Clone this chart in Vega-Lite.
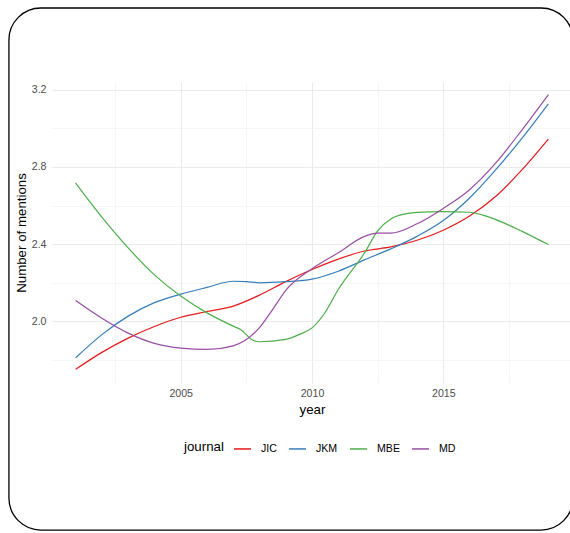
{
  "$schema": "https://vega.github.io/schema/vega-lite/v6.json",
  "autosize": {"type": "none"},
  "width": 520,
  "height": 301,
  "padding": {"left": 52, "top": 82, "right": 0, "bottom": 150},
  "background": "white",
  "config": {
    "font": "Liberation Sans",
    "view": {"stroke": null},
    "axis": {"domain": false, "ticks": false, "labelFontSize": 10.6, "labelColor": "#4d4d4d", "titleFontSize": 13.3, "titleFontWeight": "normal", "titleColor": "#000000", "gridColor": "#ebebeb"}
  },
  "resolve": {"axis": {"x": "independent", "y": "independent"}},
  "layer": [
    {
      "data": {"values": [{}]},
      "mark": {"type": "rect", "fillOpacity": 0, "stroke": "#000000", "strokeWidth": 1.3, "cornerRadius": 32},
      "encoding": {
        "x": {"datum": 1998.46, "type": "quantitative", "scale": {"domain": [2000.1, 2019.9], "nice": false, "zero": false},
          "axis": {"orient": "bottom", "values": [2002.5, 2007.5, 2012.5, 2017.5], "labels": false, "title": null, "grid": true, "gridColor": "#f2f2f2", "gridWidth": 0.7}},
        "x2": {"datum": 2019.94},
        "y": {"datum": 3.625, "type": "quantitative", "scale": {"domain": [1.679, 3.241], "nice": false, "zero": false},
          "axis": {"orient": "left", "values": [1.8, 2.2, 2.6, 3.0], "labels": false, "title": null, "grid": true, "gridColor": "#f2f2f2", "gridWidth": 0.7}},
        "y2": {"datum": 0.916}
      }
    },
    {
      "data": {"values": [
        {"journal": "JIC", "year": 2001, "mentions": 1.750},
        {"journal": "JIC", "year": 2002, "mentions": 1.838},
        {"journal": "JIC", "year": 2003, "mentions": 1.912},
        {"journal": "JIC", "year": 2004, "mentions": 1.972},
        {"journal": "JIC", "year": 2005, "mentions": 2.020},
        {"journal": "JIC", "year": 2006, "mentions": 2.050},
        {"journal": "JIC", "year": 2007, "mentions": 2.078},
        {"journal": "JIC", "year": 2008, "mentions": 2.135},
        {"journal": "JIC", "year": 2009, "mentions": 2.205},
        {"journal": "JIC", "year": 2010, "mentions": 2.268},
        {"journal": "JIC", "year": 2011, "mentions": 2.322},
        {"journal": "JIC", "year": 2012, "mentions": 2.364},
        {"journal": "JIC", "year": 2013, "mentions": 2.385},
        {"journal": "JIC", "year": 2014, "mentions": 2.420},
        {"journal": "JIC", "year": 2015, "mentions": 2.472},
        {"journal": "JIC", "year": 2016, "mentions": 2.545},
        {"journal": "JIC", "year": 2017, "mentions": 2.648},
        {"journal": "JIC", "year": 2018, "mentions": 2.786},
        {"journal": "JIC", "year": 2019, "mentions": 2.945},
        {"journal": "JKM", "year": 2001, "mentions": 1.810},
        {"journal": "JKM", "year": 2002, "mentions": 1.930},
        {"journal": "JKM", "year": 2003, "mentions": 2.026},
        {"journal": "JKM", "year": 2004, "mentions": 2.096},
        {"journal": "JKM", "year": 2005, "mentions": 2.140},
        {"journal": "JKM", "year": 2006, "mentions": 2.175},
        {"journal": "JKM", "year": 2007, "mentions": 2.207},
        {"journal": "JKM", "year": 2007.5, "mentions": 2.205},
        {"journal": "JKM", "year": 2008, "mentions": 2.199},
        {"journal": "JKM", "year": 2009, "mentions": 2.205},
        {"journal": "JKM", "year": 2010, "mentions": 2.218},
        {"journal": "JKM", "year": 2011, "mentions": 2.259},
        {"journal": "JKM", "year": 2012, "mentions": 2.318},
        {"journal": "JKM", "year": 2013, "mentions": 2.375},
        {"journal": "JKM", "year": 2014, "mentions": 2.440},
        {"journal": "JKM", "year": 2015, "mentions": 2.522},
        {"journal": "JKM", "year": 2016, "mentions": 2.639},
        {"journal": "JKM", "year": 2017, "mentions": 2.786},
        {"journal": "JKM", "year": 2018, "mentions": 2.950},
        {"journal": "JKM", "year": 2019, "mentions": 3.128},
        {"journal": "MBE", "year": 2001, "mentions": 2.717},
        {"journal": "MBE", "year": 2002, "mentions": 2.540},
        {"journal": "MBE", "year": 2003, "mentions": 2.380},
        {"journal": "MBE", "year": 2004, "mentions": 2.240},
        {"journal": "MBE", "year": 2005, "mentions": 2.130},
        {"journal": "MBE", "year": 2006, "mentions": 2.043},
        {"journal": "MBE", "year": 2007, "mentions": 1.974},
        {"journal": "MBE", "year": 2007.3, "mentions": 1.955},
        {"journal": "MBE", "year": 2007.7, "mentions": 1.905},
        {"journal": "MBE", "year": 2008, "mentions": 1.893},
        {"journal": "MBE", "year": 2009, "mentions": 1.905},
        {"journal": "MBE", "year": 2009.5, "mentions": 1.930},
        {"journal": "MBE", "year": 2010, "mentions": 1.965},
        {"journal": "MBE", "year": 2010.5, "mentions": 2.045},
        {"journal": "MBE", "year": 2011, "mentions": 2.164},
        {"journal": "MBE", "year": 2012, "mentions": 2.354},
        {"journal": "MBE", "year": 2012.5, "mentions": 2.468},
        {"journal": "MBE", "year": 2013, "mentions": 2.530},
        {"journal": "MBE", "year": 2013.5, "mentions": 2.555},
        {"journal": "MBE", "year": 2014, "mentions": 2.564},
        {"journal": "MBE", "year": 2015, "mentions": 2.568},
        {"journal": "MBE", "year": 2016, "mentions": 2.565},
        {"journal": "MBE", "year": 2016.5, "mentions": 2.550},
        {"journal": "MBE", "year": 2017, "mentions": 2.527},
        {"journal": "MBE", "year": 2018, "mentions": 2.466},
        {"journal": "MBE", "year": 2019, "mentions": 2.397},
        {"journal": "MD", "year": 2001, "mentions": 2.107},
        {"journal": "MD", "year": 2002, "mentions": 2.015},
        {"journal": "MD", "year": 2003, "mentions": 1.938},
        {"journal": "MD", "year": 2004, "mentions": 1.885},
        {"journal": "MD", "year": 2005, "mentions": 1.860},
        {"journal": "MD", "year": 2006, "mentions": 1.853},
        {"journal": "MD", "year": 2007, "mentions": 1.872},
        {"journal": "MD", "year": 2008, "mentions": 1.966},
        {"journal": "MD", "year": 2008.5, "mentions": 2.060},
        {"journal": "MD", "year": 2009, "mentions": 2.160},
        {"journal": "MD", "year": 2010, "mentions": 2.272},
        {"journal": "MD", "year": 2011, "mentions": 2.355},
        {"journal": "MD", "year": 2012, "mentions": 2.440},
        {"journal": "MD", "year": 2012.5, "mentions": 2.457},
        {"journal": "MD", "year": 2013, "mentions": 2.457},
        {"journal": "MD", "year": 2014, "mentions": 2.505},
        {"journal": "MD", "year": 2015, "mentions": 2.585},
        {"journal": "MD", "year": 2016, "mentions": 2.682},
        {"journal": "MD", "year": 2017, "mentions": 2.821},
        {"journal": "MD", "year": 2018, "mentions": 2.993},
        {"journal": "MD", "year": 2019, "mentions": 3.175}
      ]},
      "mark": {"type": "line", "strokeWidth": 1.2, "interpolate": "monotone"},
      "encoding": {
        "x": {
          "field": "year", "type": "quantitative",
          "scale": {"domain": [2000.1, 2019.9], "nice": false, "zero": false},
          "title": "year",
          "axis": {
            "orient": "bottom",
            "values": [2005, 2010, 2015],
            "format": "d",
            "labelPadding": 5,
            "titlePadding": 4,
            "grid": true,
            "gridColor": "#ebebeb",
            "gridWidth": 1.1
          }
        },
        "y": {
          "field": "mentions", "type": "quantitative",
          "scale": {"domain": [1.679, 3.241], "nice": false, "zero": false},
          "title": "Number of mentions",
          "axis": {
            "orient": "left",
            "values": [2.0, 2.4, 2.8, 3.2],
            "format": ".1f",
            "labelPadding": 6,
            "titlePadding": 3,
            "grid": true,
            "gridColor": "#ebebeb",
            "gridWidth": 1.1
          }
        },
        "color": {
          "field": "journal", "type": "nominal",
          "scale": {"domain": ["JIC", "JKM", "MBE", "MD"], "range": ["#E41A1C", "#377EB8", "#4DAF4A", "#984EA3"]},
          "legend": {
            "orient": "none", "legendX": 132, "legendY": 357,
            "direction": "horizontal", "titleOrient": "left",
            "title": "journal", "titleFontSize": 13.3, "titleFontWeight": "normal", "titleColor": "#000000",
            "titlePadding": 9, "labelFontSize": 10.6, "labelColor": "#000000",
            "symbolType": "stroke", "symbolSize": 289, "symbolStrokeWidth": 1.5,
            "labelOffset": 9, "columnPadding": 9
          }
        }
      }
    }
  ]
}
